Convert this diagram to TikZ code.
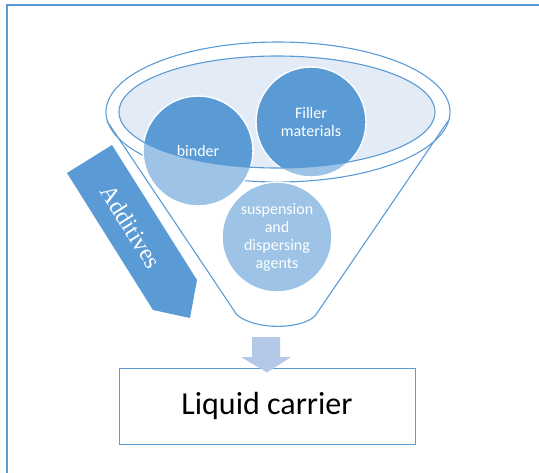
\documentclass[tikz,border=0pt]{standalone}
\usepackage{fontspec}
\setmainfont{Carlito}
\newfontfamily\serifadd{Liberation Serif}
\usetikzlibrary{positioning, calc}

\definecolor{dkblue}{HTML}{5B9BD5}
\definecolor{ltblue}{HTML}{9DC3E6}
\definecolor{paleblue}{HTML}{E3EBF6}
\definecolor{flowblue}{HTML}{B4C9E8}

\begin{document}
\begin{tikzpicture}[x=1pt, y=-1pt,
    funnelline/.style={draw=dkblue, line width=1.1pt},
    ball/.style={circle, draw=white, line width=1.4pt, minimum size=110pt,
        inner sep=0pt, text=white, align=center,
        font=\fontsize{16}{18}\selectfont}]
    \useasboundingbox (0,0) rectangle (539,472);
    % page frame, only top and left edges show
    \begin{scope}
        \clip (0,0) rectangle (539,472);
        \draw [dkblue, line width=2.2pt] (7,480) -- (7,5) -- (560,5);
    \end{scope}

    % ball centres
    \coordinate (b) at (198,151);
    \coordinate (f) at (311,122);
    \coordinate (s) at (277,237);

    % Funnel mouth and body
    \draw [funnelline] (278,112) ellipse [x radius=172, y radius=70];
    \draw [funnelline] (107,121) -- (237,315)
        .. controls (255,330) and (300,330) .. (315,316) -- (448,121);
    \fill [paleblue] (277,112) ellipse [x radius=158, y radius=56];

    % the three ingredients
    \fill [ltblue] (b) circle (55) (f) circle (55) (s) circle (55);
    \begin{scope}
        \clip (277,112) ellipse [x radius=158, y radius=56];
        \fill [dkblue] (b) circle (55) (f) circle (55);
    \end{scope}
    \node [ball] (binder) at (b) {binder};
    \node [ball] (filler) at (f) {Filler\\materials};
    \node [ball] (agents) at (s) {suspension\\and\\dispersing\\agents};
    \draw [funnelline] (277,112) ellipse [x radius=158, y radius=56];

    % Additives arrow
    \fill [dkblue] (67,173) -- (112,145) -- (197,280) -- (190,318)
        -- (153,310) -- cycle;
    \node [text=white, rotate=-57.8, font=\serifadd\fontsize{24}{24}\selectfont]
        (additives) at (131,227) {Additives};

    % Output box
    \node [draw=dkblue, line width=1pt, fill=white, minimum width=296pt,
        minimum height=76pt, font=\fontsize{32}{32}\selectfont]
        (carrier) at (267,406) {Liquid carrier};
    % flow into the box
    \fill [flowblue] (252,337) -- (280,337) -- (280,357) -- (291,357)
        -- ($(carrier.north)+(0,5)$) -- (241,357) -- (252,357) -- cycle;
\end{tikzpicture}
\end{document}
